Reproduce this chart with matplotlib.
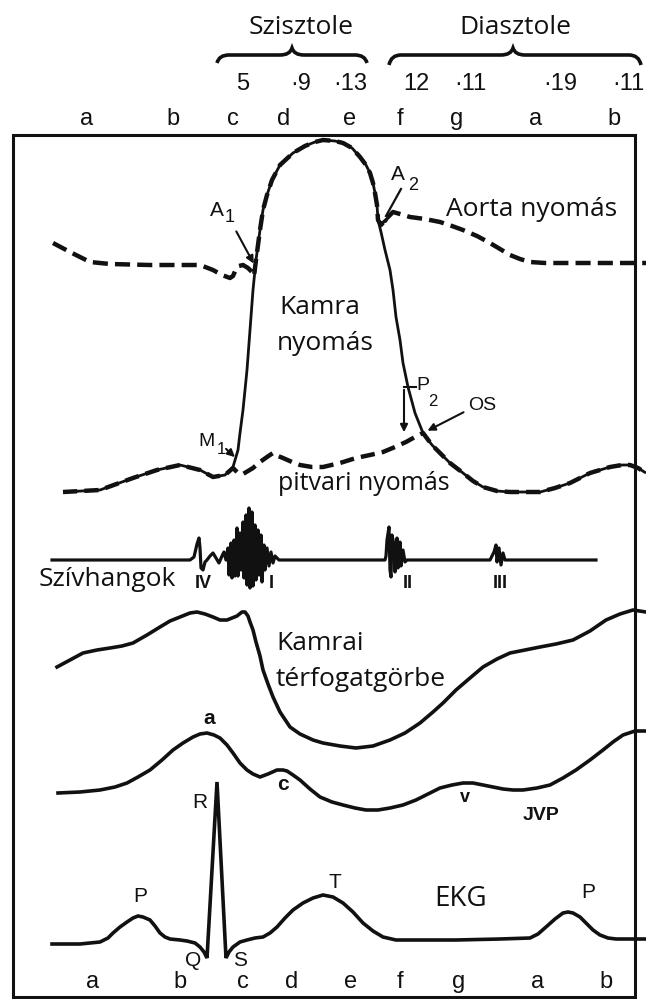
import numpy as np
import matplotlib.pyplot as plt
from matplotlib.path import Path
from matplotlib.patches import PathPatch, Rectangle

# phase letters and durations above / below the box
phases = ["a", "b", "c", "d", "e", "f", "g", "a", "b"]
phase_x_top = [87, 173, 233, 284, 350, 400, 457, 536, 614]
phase_x_bottom = [93, 180, 243, 292, 351, 400, 459, 538, 606]
durations = ["5", "·9", "·13", "12", "·11", "·19", "·11"]
duration_x = [243, 301, 350, 416, 470, 560, 628]

# curves (x = time position, y = drawing height, downwards)
lv = np.array([(63, 492), (100, 490), (133, 478), (157, 470), (180, 465), (200, 470), (213, 477),
               (225, 475), (233, 467), (238, 450), (240, 433), (243, 410), (247, 370), (250, 330),
               (253, 290), (256, 260), (260, 230), (263, 210), (267, 195), (272, 180), (280, 165),
               (293, 153), (305, 146), (315, 142), (323, 140), (335, 141), (343, 143), (352, 148),
               (360, 157), (366, 165), (370, 173), (373, 183), (375, 193), (377, 205), (378, 220),
               (381, 232), (385, 250), (390, 270), (393, 290), (396, 317), (400, 340), (403, 363),
               (408, 387), (415, 413), (423, 433), (432, 445), (440, 453), (450, 463), (463, 473),
               (473, 481), (483, 487), (497, 491), (510, 492), (525, 492), (540, 492), (555, 488),
               (570, 483), (590, 473), (610, 467), (622, 465), (630, 465), (638, 468), (646, 473)])

atrial = np.array([(63, 492), (100, 490), (133, 478), (157, 470), (180, 465), (200, 470), (213, 477),
                   (225, 475), (233, 468), (238, 473), (243, 474), (248, 471), (253, 468), (260, 462),
                   (267, 457), (273, 453), (278, 456), (283, 458), (292, 462), (300, 465), (312, 467),
                   (323, 467), (340, 463), (356, 458), (370, 455), (383, 452), (395, 447), (406, 442),
                   (415, 437), (423, 433), (432, 445), (440, 453), (450, 463), (463, 473), (473, 481),
                   (483, 487), (497, 491), (510, 492), (525, 492), (540, 492), (555, 488), (570, 483),
                   (590, 473), (610, 467), (622, 465), (630, 465), (638, 468), (646, 473)])

aorta = np.array([(53, 243), (70, 252), (90, 262), (110, 264), (150, 265), (200, 265), (213, 270),
                  (222, 275), (230, 278), (233, 276), (236, 269), (239, 266), (243, 265), (248, 268),
                  (252, 272), (254, 276), (256, 260), (260, 230), (263, 210), (267, 195), (272, 180),
                  (280, 165), (293, 153), (305, 146), (315, 142), (323, 140), (335, 141), (343, 143),
                  (352, 148), (360, 157), (366, 165), (370, 173), (373, 183), (375, 193), (377, 205),
                  (378, 220), (381, 225), (387, 218), (393, 212), (400, 214), (410, 217), (425, 219),
                  (440, 222), (452, 226), (463, 230), (477, 236), (490, 243), (500, 249), (510, 255),
                  (520, 259), (530, 262), (545, 263), (556, 263), (600, 263), (635, 263), (646, 263)])

sounds = np.array([(52, 560), (190, 560), (194, 557), (197, 544), (199, 538), (200, 548), (201, 568),
                   (203, 570), (205, 562), (207, 560), (210, 556), (213, 553), (216, 558), (219, 563),
                   (222, 556), (224, 552), (226, 560), (228, 548), (229, 575), (231, 543), (232, 578),
                   (234, 540), (235, 576), (237, 528), (238, 576), (240, 533), (241, 570), (243, 522),
                   (244, 578), (246, 515), (247, 585), (249, 508), (250, 588), (252, 512), (253, 586),
                   (255, 525), (256, 580), (258, 530), (259, 575), (261, 535), (262, 582), (264, 545),
                   (265, 570), (267, 548), (269, 566), (271, 552), (273, 563), (275, 556), (277, 558),
                   (279, 560), (385, 560), (386, 556), (387, 540), (389, 527), (390, 570), (391, 577),
                   (392, 535), (394, 545), (395, 572), (397, 538), (398, 568), (400, 542), (401, 566),
                   (403, 550), (405, 562), (407, 560), (490, 560), (492, 556), (494, 552), (496, 545),
                   (497, 562), (499, 548), (501, 565), (503, 553), (505, 560), (596, 560)])

volume = np.array([(57, 667), (70, 660), (83, 653), (97, 650), (110, 648), (122, 646), (133, 643),
                   (147, 635), (160, 627), (170, 621), (180, 617), (190, 613), (197, 612), (205, 614),
                   (213, 617), (220, 620), (227, 620), (232, 618), (237, 616), (242, 612), (245, 612),
                   (248, 616), (250, 622), (253, 630), (256, 642), (260, 656), (263, 670), (268, 684),
                   (273, 697), (280, 712), (290, 727), (300, 734), (313, 740), (323, 743), (340, 746),
                   (356, 748), (373, 746), (390, 740), (405, 733), (420, 723), (433, 712), (443, 703),
                   (456, 690), (470, 678), (483, 667), (497, 659), (510, 653), (525, 650), (540, 647),
                   (556, 644), (573, 640), (590, 631), (606, 620), (620, 614), (633, 610), (646, 612)])

jvp = np.array([(58, 793), (80, 792), (100, 790), (115, 787), (127, 783), (138, 777), (150, 770),
                (162, 760), (173, 750), (183, 743), (193, 737), (200, 734), (207, 733), (214, 735),
                (220, 738), (227, 745), (233, 753), (240, 763), (247, 770), (253, 774), (260, 777),
                (268, 774), (277, 770), (283, 770), (287, 771), (293, 775), (300, 780), (310, 789),
                (320, 797), (332, 802), (343, 805), (355, 808), (366, 810), (378, 810), (390, 808),
                (403, 805), (416, 800), (428, 794), (440, 788), (452, 785), (463, 783), (473, 783),
                (483, 785), (493, 787), (503, 789), (513, 790), (523, 790), (537, 788), (550, 785),
                (563, 778), (576, 770), (590, 760), (603, 750), (613, 742), (623, 735), (635, 731),
                (646, 731)])

ekg = np.array([(52, 944), (80, 944), (100, 942), (108, 938), (113, 933), (120, 927), (127, 922),
                (133, 918), (138, 916), (143, 917), (150, 920), (155, 926), (160, 933), (165, 937),
                (170, 939), (180, 940), (187, 941), (195, 943), (200, 947), (204, 952), (207, 958),
                (217, 782), (226, 958), (229, 952), (233, 947), (240, 942), (247, 940), (255, 938),
                (263, 937), (270, 933), (277, 927), (285, 918), (293, 910), (303, 903), (313, 898),
                (323, 895), (333, 897), (343, 903), (353, 912), (363, 923), (373, 931), (383, 937),
                (396, 940), (420, 940), (456, 940), (500, 939), (530, 938), (538, 934), (546, 927),
                (555, 919), (563, 913), (568, 912), (573, 913), (580, 917), (586, 923), (593, 930),
                (600, 935), (608, 938), (616, 939), (633, 939), (646, 939)])

BIG = ['Open Sans', 'DejaVu Sans']
HELV = ['Liberation Sans', 'DejaVu Sans']
NARROW = ['Liberation Sans Narrow', 'Liberation Sans', 'DejaVu Sans']
INK = '#111111'


def brace(ax, x0, x1, xm, y_end, y_body, y_tip):
    r = 12
    verts = [(x0, y_end), (x0 + 2, y_body), (x0 + r, y_body),
             (xm - r, y_body), (xm - 2, y_body), (xm, y_tip),
             (xm + 2, y_body), (xm + r, y_body),
             (x1 - r, y_body), (x1 - 2, y_body), (x1, y_end)]
    codes = [Path.MOVETO, Path.CURVE3, Path.CURVE3,
             Path.LINETO, Path.CURVE3, Path.CURVE3,
             Path.CURVE3, Path.CURVE3,
             Path.LINETO, Path.CURVE3, Path.CURVE3]
    ax.add_patch(PathPatch(Path(verts, codes), fill=False, lw=2.6, color=INK))


fig = plt.figure(figsize=(6.46, 9.99), dpi=100)
ax = fig.add_axes([0, 0, 1, 1])
ax.set_xlim(0, 646)
ax.set_ylim(999, 0)
ax.axis('off')

# header
ax.text(301, 27, "Szisztole", family=BIG, fontsize=19, ha='center', va='center', color=INK)
ax.text(515, 27, "Diasztole", family=BIG, fontsize=19, ha='center', va='center', color=INK)
brace(ax, 217, 367, 292, 63, 55, 48)
brace(ax, 389, 641, 513, 65, 55, 48)
for s, x in zip(durations, duration_x):
    ax.text(x, 84, s, family=NARROW, fontsize=17, ha='center', va='center', color=INK)
for s, x in zip(phases, phase_x_top):
    ax.text(x, 119, s, family=HELV, fontsize=17, ha='center', va='center', color=INK)
for s, x in zip(phases, phase_x_bottom):
    ax.text(x, 982, s, family=HELV, fontsize=17, ha='center', va='center', color=INK)

# frame
ax.add_patch(Rectangle((13, 135), 622, 862, fill=False, lw=2.2, ec=INK))

# pressures
ax.plot(lv[:, 0], lv[:, 1], color=INK, lw=2.0, solid_capstyle='butt')
ax.plot(atrial[:, 0], atrial[:, 1], color=INK, lw=3.2, dashes=(3.2, 1.6), dash_capstyle='butt')
ax.plot(aorta[:, 0], aorta[:, 1], color=INK, lw=3.2, dashes=(3.4, 1.6), dash_capstyle='butt')
ax.fill([380, 393, 386], [224, 212, 222], color=INK)

# other traces
ax.plot(sounds[:, 0], sounds[:, 1], color=INK, lw=2.3)
ax.plot(volume[:, 0], volume[:, 1], color=INK, lw=2.6)
ax.plot(jvp[:, 0], jvp[:, 1], color=INK, lw=2.6)
ax.plot(ekg[:, 0], ekg[:, 1], color=INK, lw=2.6, solid_joinstyle='miter')

# labels of traces
ax.text(532, 209, "Aorta nyomás", family=BIG, fontsize=19, ha='center', va='center', color=INK)
ax.text(320, 308, "Kamra", family=BIG, fontsize=19, ha='center', va='center', color=INK)
ax.text(325, 343, "nyomás", family=BIG, fontsize=19, ha='center', va='center', color=INK)
ax.text(364, 483, "pitvari nyomás", family=BIG, fontsize=18, ha='center', va='center', color=INK)
ax.text(107, 580, "Szívhangok", family=BIG, fontsize=19, ha='center', va='center', color=INK)
ax.text(276, 644, "Kamrai", family=BIG, fontsize=19, ha='left', va='center', color=INK)
ax.text(276, 679, "térfogatgörbe", family=BIG, fontsize=19, ha='left', va='center', color=INK)
ax.text(461, 899, "EKG", family=BIG, fontsize=20, ha='center', va='center', color=INK)

# heart sound numerals
for s, x in [("IV", 203), ("I", 271), ("II", 408), ("III", 500)]:
    ax.text(x, 583, s, family=NARROW, fontsize=13, ha='center', va='center', color=INK,
            weight='bold')

# valve events
arrow = dict(arrowstyle='-|>', color=INK, lw=1.5, mutation_scale=11)
ax.text(217, 210, "A", family=HELV, fontsize=15, ha='center', va='center', color=INK)
ax.text(230, 217, "1", family=HELV, fontsize=13, ha='center', va='center', color=INK)
ax.annotate("", xy=(255, 266), xytext=(235, 229), arrowprops=arrow)
ax.text(398, 175, "A", family=HELV, fontsize=15, ha='center', va='center', color=INK)
ax.text(413, 185, "2", family=HELV, fontsize=13, ha='center', va='center', color=INK)
ax.plot([401, 386], [189, 216], color=INK, lw=1.6)
ax.text(207, 442, "M", family=HELV, fontsize=14, ha='center', va='center', color=INK)
ax.text(221, 449, "1", family=HELV, fontsize=12, ha='center', va='center', color=INK)
ax.annotate("", xy=(237, 459), xytext=(224, 447), arrowprops=arrow)
ax.plot([404, 416], [387, 387], color=INK, lw=1.5)
ax.annotate("", xy=(404, 435), xytext=(404, 387), arrowprops=arrow)
ax.text(423, 385, "P", family=HELV, fontsize=14, ha='center', va='center', color=INK)
ax.text(433, 401, "2", family=HELV, fontsize=12, ha='center', va='center', color=INK)
ax.text(482, 405, "OS", family=HELV, fontsize=14, ha='center', va='center', color=INK)
ax.annotate("", xy=(425, 432), xytext=(466, 411), arrowprops=arrow)

# JVP waves
ax.text(209, 718, "a", family=HELV, fontsize=15, ha='center', va='center', color=INK, weight='bold')
ax.text(283, 785, "c", family=HELV, fontsize=15, ha='center', va='center', color=INK, weight='bold')
ax.text(465, 797, "v", family=HELV, fontsize=13, ha='center', va='center', color=INK, weight='bold')
ax.text(541, 815, "JVP", family=HELV, fontsize=14, ha='center', va='center', color=INK, weight='bold')

# EKG waves
for s, x, y in [("R", 200, 802), ("P", 140, 897), ("Q", 193, 960), ("S", 240, 960),
                ("T", 335, 883), ("P", 588, 893)]:
    ax.text(x, y, s, family=HELV, fontsize=15, ha='center', va='center', color=INK)

fig.savefig("out.png", dpi=100)
